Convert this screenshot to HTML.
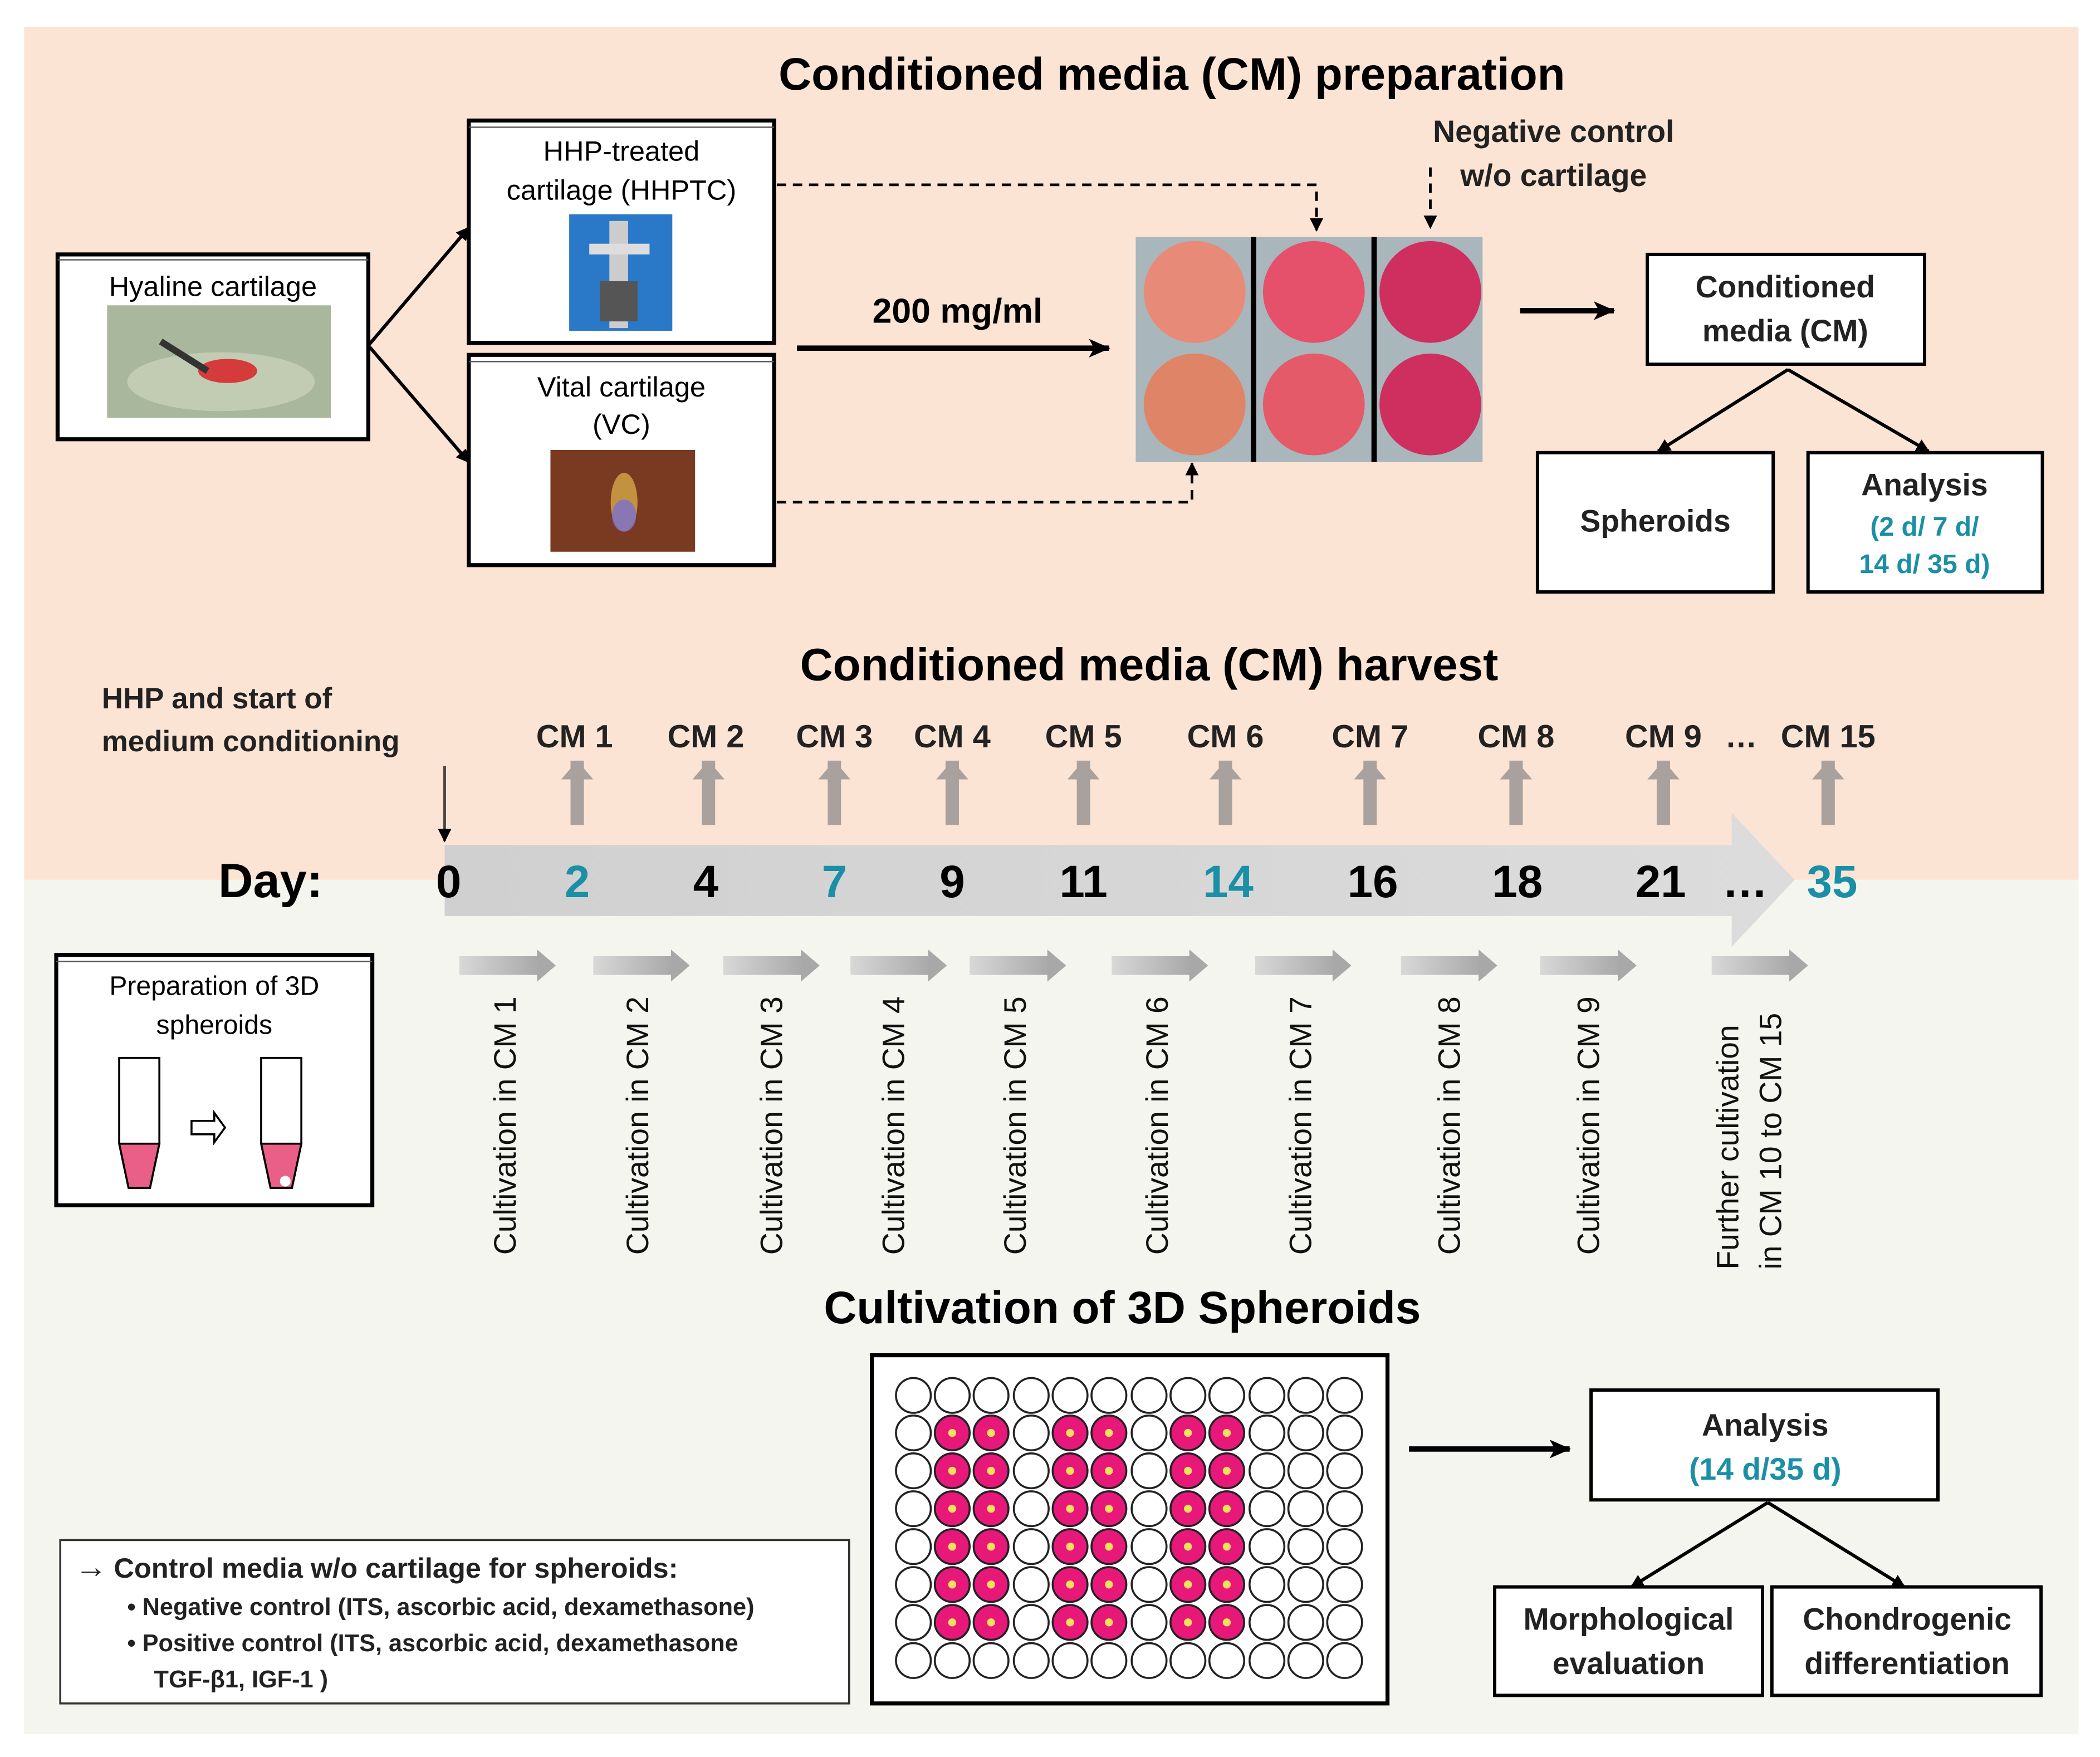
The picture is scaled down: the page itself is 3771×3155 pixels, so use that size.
<!DOCTYPE html>
<html><head><meta charset="utf-8"><style>
html,body{margin:0;padding:0;background:#fff}
svg{display:block}
text{font-family:"Liberation Sans",sans-serif}
.b{font-weight:bold}
</style></head><body>
<svg width="3771" height="3155" viewBox="0 0 1568 1312" preserveAspectRatio="none" xmlns="http://www.w3.org/2000/svg">
<defs>
<marker id="ah" markerWidth="10" markerHeight="10" refX="9" refY="5" orient="auto" markerUnits="userSpaceOnUse"><path d="M0,0 L10,5 L0,10 Z" fill="#000"/></marker>
<marker id="ahb" markerWidth="16" markerHeight="14" refX="15" refY="7" orient="auto" markerUnits="userSpaceOnUse"><path d="M0,0 L16,7 L0,14 L4,7 Z" fill="#000"/></marker>
<linearGradient id="band" x1="0" y1="0" x2="1" y2="0"><stop offset="0" stop-color="#d0d0d0"/><stop offset="1" stop-color="#dcdcdc"/></linearGradient>
<linearGradient id="sa" x1="0" y1="0" x2="1" y2="0"><stop offset="0" stop-color="#d8d8d8"/><stop offset="1" stop-color="#a8a8a8"/></linearGradient>
<g id="ua"><rect x="-5" y="0" width="10" height="48" fill="#a9a19d"/><path d="M-12,14 L0,0 L12,14 Z" fill="#a9a19d"/></g>
<g id="sar"><rect x="0" y="-7" width="60" height="14" fill="url(#sa)"/><path d="M58,-12 L72,0 L58,12 Z" fill="#a8a8a8"/></g>
</defs>
<rect x="0" y="0" width="1568" height="1312" fill="#fff"/>
<rect x="18" y="20" width="1534" height="637" fill="#fce4d4"/>
<rect x="18" y="657" width="1534" height="638" fill="#f4f5ef"/>

<text x="875" y="67" text-anchor="middle" class="b" font-size="34">Conditioned media (CM) preparation</text>

<rect x="43" y="190" width="232" height="138" fill="#fff" stroke="#000" stroke-width="3"/>
<line x1="43" y1="194" x2="275" y2="194" stroke="#555" stroke-width="1"/>
<text x="159" y="221" text-anchor="middle" font-size="21">Hyaline cartilage</text>
<rect x="80" y="228" width="167" height="84" fill="#a9b79c"/>
<ellipse cx="165" cy="285" rx="70" ry="22" fill="#c2ccb3"/>
<ellipse cx="170" cy="277" rx="22" ry="9" fill="#d53b3b"/>
<line x1="120" y1="255" x2="155" y2="277" stroke="#333" stroke-width="5"/>
<line x1="275" y1="258" x2="350" y2="170" stroke="#000" stroke-width="2.5" marker-end="url(#ah)"/>
<line x1="275" y1="258" x2="350" y2="345" stroke="#000" stroke-width="2.5" marker-end="url(#ah)"/>

<rect x="350" y="90" width="228" height="166" fill="#fff" stroke="#000" stroke-width="3"/>
<line x1="350" y1="95" x2="578" y2="95" stroke="#555" stroke-width="1"/>
<text x="464" y="120" text-anchor="middle" font-size="21">HHP-treated</text>
<text x="464" y="149" text-anchor="middle" font-size="21">cartilage (HHPTC)</text>
<rect x="425" y="160" width="77" height="87" fill="#2a78c8"/>
<rect x="455" y="165" width="14" height="80" fill="#ccc"/>
<rect x="440" y="182" width="45" height="8" fill="#ddd"/>
<rect x="448" y="210" width="28" height="30" fill="#555"/>

<rect x="350" y="265" width="228" height="157" fill="#fff" stroke="#000" stroke-width="3"/>
<line x1="350" y1="270" x2="578" y2="270" stroke="#555" stroke-width="1"/>
<text x="464" y="296" text-anchor="middle" font-size="21">Vital cartilage</text>
<text x="464" y="324" text-anchor="middle" font-size="21">(VC)</text>
<rect x="411" y="336" width="108" height="76" fill="#7a3a22"/>
<ellipse cx="466" cy="375" rx="10" ry="22" fill="#d7a84a" opacity="0.8"/>
<ellipse cx="466" cy="385" rx="9" ry="12" fill="#7a70d0" opacity="0.8"/>

<polyline points="580,138 983,138 983,172" fill="none" stroke="#000" stroke-width="2" stroke-dasharray="7,5" marker-end="url(#ah)"/>
<polyline points="580,375 890,375 890,346" fill="none" stroke="#000" stroke-width="2" stroke-dasharray="7,5" marker-end="url(#ah)"/>
<line x1="1068" y1="125" x2="1068" y2="170" stroke="#000" stroke-width="2" stroke-dasharray="7,5" marker-end="url(#ah)"/>
<text x="1160" y="106" text-anchor="middle" class="b" font-size="23" fill="#222">Negative control</text>
<text x="1160" y="139" text-anchor="middle" class="b" font-size="23" fill="#222">w/o cartilage</text>

<text x="715" y="241" text-anchor="middle" class="b" font-size="26">200 mg/ml</text>
<line x1="595" y1="260" x2="828" y2="260" stroke="#000" stroke-width="4" marker-end="url(#ahb)"/>

<rect x="848" y="177" width="259" height="168" fill="#a9b6bb"/>
<ellipse cx="892" cy="218" rx="38" ry="38" fill="#e88a78"/>
<ellipse cx="892" cy="302" rx="38" ry="38" fill="#e08468"/>
<ellipse cx="981" cy="218" rx="38" ry="38" fill="#e5506a"/>
<ellipse cx="981" cy="302" rx="38" ry="38" fill="#e45a68"/>
<ellipse cx="1068" cy="218" rx="38" ry="38" fill="#cf2f5e"/>
<ellipse cx="1068" cy="302" rx="38" ry="38" fill="#cf2f5e"/>
<rect x="934" y="177" width="4" height="168" fill="#000"/>
<rect x="1024" y="177" width="4" height="168" fill="#000"/>

<line x1="1135" y1="232" x2="1205" y2="232" stroke="#000" stroke-width="4" marker-end="url(#ahb)"/>
<rect x="1230" y="190" width="207" height="82" fill="#fff" stroke="#000" stroke-width="2.5"/>
<text x="1333" y="222" text-anchor="middle" class="b" font-size="23" fill="#222">Conditioned</text>
<text x="1333" y="255" text-anchor="middle" class="b" font-size="23" fill="#222">media (CM)</text>
<line x1="1335" y1="276" x2="1238" y2="337" stroke="#000" stroke-width="2.5" marker-end="url(#ah)"/>
<line x1="1335" y1="276" x2="1440" y2="337" stroke="#000" stroke-width="2.5" marker-end="url(#ah)"/>
<rect x="1148" y="338" width="176" height="104" fill="#fff" stroke="#000" stroke-width="2.5"/>
<text x="1236" y="397" text-anchor="middle" class="b" font-size="23" fill="#222">Spheroids</text>
<rect x="1350" y="338" width="175" height="104" fill="#fff" stroke="#000" stroke-width="2.5"/>
<text x="1437" y="370" text-anchor="middle" class="b" font-size="23" fill="#222">Analysis</text>
<text x="1437" y="400" text-anchor="middle" class="b" font-size="20" fill="#1a8fa6">(2 d/ 7 d/</text>
<text x="1437" y="428" text-anchor="middle" class="b" font-size="20" fill="#1a8fa6">14 d/ 35 d)</text>

<text x="858" y="508" text-anchor="middle" class="b" font-size="34">Conditioned media (CM) harvest</text>
<text x="76" y="529" class="b" font-size="22" fill="#222">HHP and start of</text>
<text x="76" y="561" class="b" font-size="22" fill="#222">medium conditioning</text>
<g class="b" font-size="24" text-anchor="middle" fill="#222">
<text x="429" y="558">CM 1</text><text x="527" y="558">CM 2</text><text x="623" y="558">CM 3</text><text x="711" y="558">CM 4</text><text x="809" y="558">CM 5</text><text x="915" y="558">CM 6</text><text x="1023" y="558">CM 7</text><text x="1132" y="558">CM 8</text><text x="1242" y="558">CM 9</text><text x="1300" y="558">…</text><text x="1365" y="558">CM 15</text>
</g>
<use href="#ua" x="431" y="568"/><use href="#ua" x="529" y="568"/><use href="#ua" x="623" y="568"/><use href="#ua" x="711" y="568"/><use href="#ua" x="809" y="568"/><use href="#ua" x="915" y="568"/><use href="#ua" x="1023" y="568"/><use href="#ua" x="1132" y="568"/><use href="#ua" x="1242" y="568"/><use href="#ua" x="1365" y="568"/>
<line x1="332" y1="572" x2="332" y2="628" stroke="#444" stroke-width="2" marker-end="url(#ah)"/>

<path d="M332,631 L1293,631 L1293,607 L1340,657 L1293,707 L1293,684 L332,684 Z" fill="url(#band)"/>
<text x="202" y="670" text-anchor="middle" class="b" font-size="36">Day:</text>
<g class="b" font-size="34" text-anchor="middle">
<text x="335" y="670">0</text><text x="431" y="670" fill="#1a8fa6">2</text><text x="527" y="670">4</text><text x="623" y="670" fill="#1a8fa6">7</text><text x="711" y="670">9</text><text x="809" y="670">11</text><text x="917" y="670" fill="#1a8fa6">14</text><text x="1025" y="670">16</text><text x="1133" y="670">18</text><text x="1240" y="670">21</text><text x="1303" y="670">…</text><text x="1368" y="670" fill="#1a8fa6">35</text>
</g>

<rect x="42" y="713" width="236" height="187" fill="#fff" stroke="#000" stroke-width="3"/>
<line x1="42" y1="718" x2="278" y2="718" stroke="#555" stroke-width="1"/>
<text x="160" y="743" text-anchor="middle" font-size="20">Preparation of 3D</text>
<text x="160" y="772" text-anchor="middle" font-size="20">spheroids</text>
<path d="M89,790 L119,790 L119,854 L112,887 L96,887 L89,854 Z" fill="#fff" stroke="#000" stroke-width="1.5"/>
<path d="M89,854 L119,854 L112,887 L96,887 Z" fill="#e95f88" stroke="#000" stroke-width="1.5"/>
<path d="M195,790 L225,790 L225,854 L218,887 L202,887 L195,854 Z" fill="#fff" stroke="#000" stroke-width="1.5"/>
<path d="M195,854 L225,854 L218,887 L202,887 Z" fill="#e95f88" stroke="#000" stroke-width="1.5"/>
<circle cx="213" cy="882" r="4" fill="#fff"/>
<path d="M143,837 L160,837 L160,831 L168,842 L160,853 L160,847 L143,847 Z" fill="#fff" stroke="#000" stroke-width="1.5"/>

<use href="#sar" x="343" y="721"/><use href="#sar" x="443" y="721"/><use href="#sar" x="540" y="721"/><use href="#sar" x="635" y="721"/><use href="#sar" x="724" y="721"/><use href="#sar" x="830" y="721"/><use href="#sar" x="937" y="721"/><use href="#sar" x="1046" y="721"/><use href="#sar" x="1150" y="721"/><use href="#sar" x="1278" y="721"/>

<g font-size="23" fill="#111">
<text transform="translate(385,937) rotate(-90)">Cultivation in CM 1</text>
<text transform="translate(484,937) rotate(-90)">Cultivation in CM 2</text>
<text transform="translate(584,937) rotate(-90)">Cultivation in CM 3</text>
<text transform="translate(675,937) rotate(-90)">Cultivation in CM 4</text>
<text transform="translate(766,937) rotate(-90)">Cultivation in CM 5</text>
<text transform="translate(872,937) rotate(-90)">Cultivation in CM 6</text>
<text transform="translate(979,937) rotate(-90)">Cultivation in CM 7</text>
<text transform="translate(1090,937) rotate(-90)">Cultivation in CM 8</text>
<text transform="translate(1194,937) rotate(-90)">Cultivation in CM 9</text>
<text transform="translate(1298,948) rotate(-90)">Further cultivation</text>
<text transform="translate(1330,948) rotate(-90)">in CM 10 to CM 15</text>
</g>

<text x="838" y="988" text-anchor="middle" class="b" font-size="34">Cultivation of 3D Spheroids</text>

<rect x="651" y="1012" width="385" height="260" fill="#fff" stroke="#000" stroke-width="3"/>

<line x1="1052" y1="1082" x2="1172" y2="1082" stroke="#000" stroke-width="4" marker-end="url(#ahb)"/>
<rect x="1188" y="1038" width="259" height="82" fill="#fff" stroke="#000" stroke-width="2.5"/>
<text x="1318" y="1072" text-anchor="middle" class="b" font-size="23" fill="#222">Analysis</text>
<text x="1318" y="1105" text-anchor="middle" class="b" font-size="23" fill="#1a8fa6">(14 d/35 d)</text>
<line x1="1320" y1="1122" x2="1218" y2="1185" stroke="#000" stroke-width="2.5" marker-end="url(#ah)"/>
<line x1="1320" y1="1122" x2="1422" y2="1185" stroke="#000" stroke-width="2.5" marker-end="url(#ah)"/>
<rect x="1116" y="1185" width="200" height="81" fill="#fff" stroke="#000" stroke-width="2.5"/>
<text x="1216" y="1217" text-anchor="middle" class="b" font-size="23" fill="#222">Morphological</text>
<text x="1216" y="1250" text-anchor="middle" class="b" font-size="23" fill="#222">evaluation</text>
<rect x="1323" y="1185" width="201" height="81" fill="#fff" stroke="#000" stroke-width="2.5"/>
<text x="1424" y="1217" text-anchor="middle" class="b" font-size="23" fill="#222">Chondrogenic</text>
<text x="1424" y="1250" text-anchor="middle" class="b" font-size="23" fill="#222">differentiation</text>

<rect x="45" y="1150" width="589" height="122" fill="#fff" stroke="#333" stroke-width="1.5"/>
<text x="56" y="1178" class="b" font-size="24" fill="#222">→</text>
<text x="85" y="1178" class="b" font-size="21" fill="#222">Control media w/o cartilage for spheroids:</text>
<text x="95" y="1206" class="b" font-size="18" fill="#222">•  Negative control (ITS, ascorbic acid, dexamethasone)</text>
<text x="95" y="1233" class="b" font-size="18" fill="#222">•  Positive control (ITS, ascorbic acid, dexamethasone</text>
<text x="115" y="1260" class="b" font-size="18" fill="#222">TGF-β1, IGF-1 )</text>

<g stroke="#222" stroke-width="1.5">
<g fill="#fff">
<circle cx="682" cy="1042" r="13"/><circle cx="711" cy="1042" r="13"/><circle cx="740" cy="1042" r="13"/><circle cx="770" cy="1042" r="13"/><circle cx="799" cy="1042" r="13"/><circle cx="828" cy="1042" r="13"/><circle cx="858" cy="1042" r="13"/><circle cx="887" cy="1042" r="13"/><circle cx="916" cy="1042" r="13"/><circle cx="946" cy="1042" r="13"/><circle cx="975" cy="1042" r="13"/><circle cx="1004" cy="1042" r="13"/>
<circle cx="682" cy="1240" r="13"/><circle cx="711" cy="1240" r="13"/><circle cx="740" cy="1240" r="13"/><circle cx="770" cy="1240" r="13"/><circle cx="799" cy="1240" r="13"/><circle cx="828" cy="1240" r="13"/><circle cx="858" cy="1240" r="13"/><circle cx="887" cy="1240" r="13"/><circle cx="916" cy="1240" r="13"/><circle cx="946" cy="1240" r="13"/><circle cx="975" cy="1240" r="13"/><circle cx="1004" cy="1240" r="13"/>
</g>
<g id="mid">
<g fill="#fff"><circle cx="682" cy="1070" r="13"/><circle cx="770" cy="1070" r="13"/><circle cx="858" cy="1070" r="13"/><circle cx="946" cy="1070" r="13"/><circle cx="975" cy="1070" r="13"/><circle cx="1004" cy="1070" r="13"/></g>
<g fill="#e8187a"><circle cx="711" cy="1070" r="13"/><circle cx="740" cy="1070" r="13"/><circle cx="799" cy="1070" r="13"/><circle cx="828" cy="1070" r="13"/><circle cx="887" cy="1070" r="13"/><circle cx="916" cy="1070" r="13"/></g>
<g fill="#f5e05a" stroke="none"><circle cx="711" cy="1070" r="3"/><circle cx="740" cy="1070" r="3"/><circle cx="799" cy="1070" r="3"/><circle cx="828" cy="1070" r="3"/><circle cx="887" cy="1070" r="3"/><circle cx="916" cy="1070" r="3"/></g>
</g>
<use href="#mid" y="28.3"/><use href="#mid" y="56.6"/><use href="#mid" y="84.9"/><use href="#mid" y="113.2"/><use href="#mid" y="141.5"/>
</g>
</svg>
</body></html>
